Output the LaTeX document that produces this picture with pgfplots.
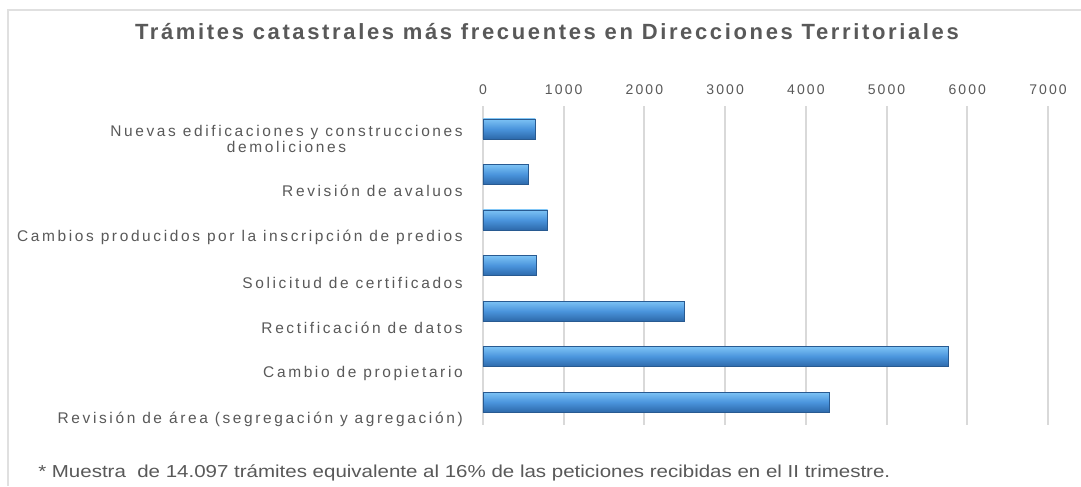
\documentclass[border=0pt]{standalone}
\usepackage{fontspec}
\setmainfont{Liberation Sans}
\newfontfamily\lsfont[LetterSpace=17]{Liberation Sans}
\newfontfamily\tkfont[LetterSpace=15]{Liberation Sans}
\newfontfamily\ttlfont[LetterSpace=12]{Liberation Sans}
\usepackage{graphicx}
\usepackage{pgfplots}
\pgfplotsset{compat=1.18}
\definecolor{tgray}{RGB}{89,89,89}
\definecolor{gridc}{RGB}{217,217,217}
\definecolor{barmid}{RGB}{74,148,220}
\definecolor{bartop}{RGB}{125,195,245}
\definecolor{barbot}{RGB}{45,105,170}
\definecolor{baredge}{RGB}{40,90,145}
\pgfplotsset{mybar/.style={xbar, bar width=15pt, bar shift=0pt, draw=baredge, line width=0.4pt, top color=bartop, bottom color=barbot, middle color=barmid}}
\begin{document}
\begin{tikzpicture}[x=0.75pt,y=-0.75pt]
\useasboundingbox (0,0) rectangle (1081,486);
\fill[white] (0,0) rectangle (1081,486);
\draw[color=black!12, line width=1.2pt] (8,486) -- (8,10) -- (1081,10);
\node[font=\ttlfont\bfseries\fontsize{16.5pt}{16.5pt}\selectfont, text=tgray] at (547,32) {Trámites catastrales más frecuentes en Direcciones Territoriales};
\begin{axis}[
  at={(362.25pt,-318.75pt)}, anchor=south west,
  scale only axis, width=423.75pt, height=239.25pt,
  xmin=0, xmax=7000, ymin=-0.5, ymax=6.5, y dir=reverse,
  xtick={0,1000,...,7000}, ytick={0,...,6},
  yticklabels={{Nuevas edificaciones y construcciones\\demoliciones\\\mbox{}},
    {Revisión de avaluos},
    {Cambios producidos por la inscripción de predios},
    {Solicitud de certificados},
    {Rectificación de datos},
    {Cambio de propietario},
    {Revisión de área (segregación y agregación)}},
  xticklabel pos=upper,
  axis line style={draw=none},
  major tick length=0pt,
  xmajorgrids, major grid style={color=gridc, line width=1.5pt},
  tick label style={text=tgray},
  xticklabel style={font=\tkfont\fontsize{10.5pt}{10.5pt}\selectfont, anchor=south, inner sep=0pt, yshift=8.25pt},
  yticklabel style={font=\lsfont\fontsize{11.6pt}{10.5pt}\selectfont, align=center, anchor=east, inner sep=0pt, xshift=-15pt, yshift=-12.75pt},
  /pgf/number format/assume math mode=true,
  /pgf/number format/1000 sep={},
  clip=false,
]
\addplot[mybar] coordinates {(650,0)};
\addplot[mybar] coordinates {(560,1)};
\addplot[mybar] coordinates {(800,2)};
\addplot[mybar] coordinates {(660,3)};
\addplot[mybar] coordinates {(2490,4)};
\addplot[mybar] coordinates {(5760,5)};
\addplot[mybar] coordinates {(4295,6)};
\end{axis}
\node[anchor=west, font=\fontsize{13pt}{13pt}\selectfont, text=tgray, inner sep=0pt] at (38,473) {\resizebox{639pt}{\height}{* Muestra\ \ de 14.097 trámites equivalente al 16\% de las peticiones recibidas en el II trimestre.}};
\end{tikzpicture}
\end{document}
